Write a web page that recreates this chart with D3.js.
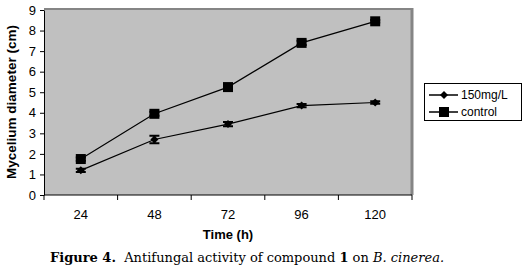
<!DOCTYPE html>
<html>
<head>
<meta charset="utf-8">
<script src="https://cdn.jsdelivr.net/npm/d3@7"></script>
<style>
  body { margin: 0; background: #fff; }
  svg { display: block; }
</style>
</head>
<body>
<svg id="chart" width="526" height="272"></svg>
<script>
const times = ['24', '48', '72', '96', '120'];
const treated = [1.2, 2.7, 3.45, 4.35, 4.5];
const treatedErr = [0.08, 0.18, 0.1, 0.08, 0.06];
const control = [1.75, 3.95, 5.25, 7.4, 8.45];
const controlErr = [0.08, 0.1, 0.12, 0.1, 0.06];
const yTicks = [0, 1, 2, 3, 4, 5, 6, 7, 8, 9];
const seriesNames = ['150mg/L', 'control'];

const svg = d3.select('#chart');
const plot = { left: 44, right: 412, top: 10, bottom: 195 };

const x = d3.scaleBand()
  .domain(times)
  .range([plot.left, plot.right]);

const y = d3.scaleLinear()
  .domain([0, 9])
  .range([plot.bottom, plot.top]);

// plot area background with gray frame
svg.append('rect')
  .attr('x', plot.left)
  .attr('y', plot.top - 1)
  .attr('width', plot.right - plot.left)
  .attr('height', plot.bottom - plot.top + 1)
  .attr('fill', '#c0c0c0');
svg.append('line')
  .attr('x1', plot.left).attr('x2', plot.right + 1)
  .attr('y1', plot.top - 1).attr('y2', plot.top - 1)
  .attr('stroke', '#858585').attr('stroke-width', 2);
svg.append('line')
  .attr('x1', plot.right).attr('x2', plot.right)
  .attr('y1', plot.top - 2).attr('y2', plot.bottom)
  .attr('stroke', '#858585').attr('stroke-width', 3);

// axes
const yAxis = svg.append('g')
  .attr('transform', `translate(${plot.left},0)`)
  .call(d3.axisLeft(y).tickValues(yTicks).tickSize(4).tickSizeOuter(0).tickPadding(4));
yAxis.select('.domain').attr('stroke', '#000');
yAxis.selectAll('text')
  .style('font-family', 'Liberation Sans, Arial, sans-serif')
  .style('font-size', '13px')
  .attr('fill', '#000');

const xAxis = svg.append('g')
  .attr('transform', `translate(0,${plot.bottom})`)
  .call(d3.axisBottom(x).tickSize(0).tickPadding(15));
xAxis.select('.domain').attr('stroke', '#000').attr('d', `M${plot.left},0H${plot.right}`);
xAxis.selectAll('text')
  .style('font-family', 'Liberation Sans, Arial, sans-serif')
  .style('font-size', '13px')
  .attr('fill', '#000');
xAxis.selectAll('.sep')
  .data(times.concat(['end']))
  .join('line')
  .attr('class', 'sep')
  .attr('x1', (d, i) => i < times.length ? x(d) : plot.right)
  .attr('x2', (d, i) => i < times.length ? x(d) : plot.right)
  .attr('y1', 0).attr('y2', 5)
  .attr('stroke', '#000');

const cx = (d) => x(d) + x.bandwidth() / 2;
const line = d3.line()
  .x((d) => cx(d.t))
  .y((d) => y(d.v));

const series = [
  { name: seriesNames[0], values: treated, err: treatedErr, marker: 'diamond' },
  { name: seriesNames[1], values: control, err: controlErr, marker: 'square' },
];

function drawMarker(g, type, px, py) {
  if (type === 'square') {
    g.append('rect')
      .attr('x', px - 5).attr('y', py - 5)
      .attr('width', 10).attr('height', 10)
      .attr('fill', '#000');
  } else {
    g.append('path')
      .attr('d', `M${px},${py - 4}L${px + 4},${py}L${px},${py + 4}L${px - 4},${py}Z`)
      .attr('fill', '#000');
  }
}

series.forEach((s) => {
  const pts = s.values.map((v, i) => ({ t: times[i], v, e: s.err[i] }));
  const g = svg.append('g');
  g.append('path')
    .datum(pts)
    .attr('d', line)
    .attr('fill', 'none')
    .attr('stroke', '#000')
    .attr('stroke-width', 1.2);
  pts.forEach((p) => {
    const px = cx(p.t);
    g.append('path')
      .attr('d', `M${px},${y(p.v + p.e)}V${y(p.v - p.e)}M${px - 5},${y(p.v + p.e)}H${px + 5}M${px - 5},${y(p.v - p.e)}H${px + 5}`)
      .attr('stroke', '#000')
      .attr('stroke-width', 2)
      .attr('fill', 'none');
    drawMarker(g, s.marker, px, y(p.v));
  });
});

// legend
const legend = svg.append('g');
legend.append('rect')
  .attr('x', 424.5).attr('y', 83.5)
  .attr('width', 97).attr('height', 37)
  .attr('fill', '#fff')
  .attr('stroke', '#000');
series.forEach((s, i) => {
  const ly = 95 + i * 17;
  legend.append('line')
    .attr('x1', 429).attr('x2', 458)
    .attr('y1', ly).attr('y2', ly)
    .attr('stroke', '#000').attr('stroke-width', 1.5);
  drawMarker(legend, s.marker, 444, ly);
  legend.append('text')
    .attr('x', 461).attr('y', ly + 4)
    .style('font-family', 'Liberation Sans, Arial, sans-serif')
    .style('font-size', '12px')
    .text(s.name);
});

// axis titles
svg.append('text')
  .attr('transform', 'translate(16,102) rotate(-90)')
  .attr('text-anchor', 'middle')
  .style('font-family', 'Liberation Sans, Arial, sans-serif')
  .style('font-size', '13.5px')
  .style('font-weight', 'bold')
  .text('Mycelium diameter (cm)');

svg.append('text')
  .attr('x', 228).attr('y', 239)
  .attr('text-anchor', 'middle')
  .style('font-family', 'Liberation Sans, Arial, sans-serif')
  .style('font-size', '13px')
  .style('font-weight', 'bold')
  .text('Time (h)');

// caption
const cap = svg.append('text')
  .attr('x', 50).attr('y', 262)
  .style('font-family', 'DejaVu Serif, serif')
  .style('font-size', '13px');
cap.append('tspan').style('font-weight', 'bold').text('Figure 4.');
cap.append('tspan').text('\u00a0 Antifungal activity of compound ');
cap.append('tspan').style('font-weight', 'bold').text('1');
cap.append('tspan').text(' on ');
cap.append('tspan').style('font-style', 'italic').text('B. cinerea.');
</script>
</body>
</html>
